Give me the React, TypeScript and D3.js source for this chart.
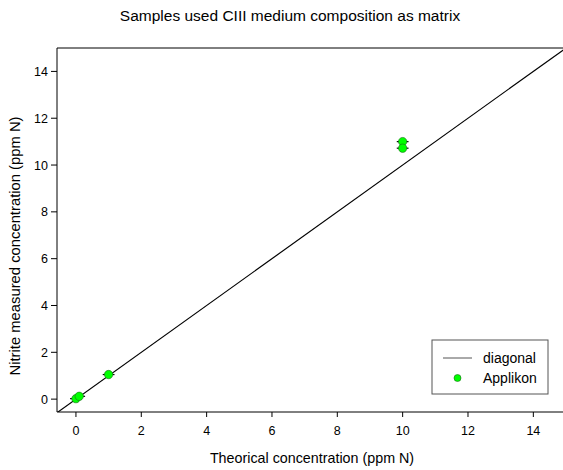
import React from 'react';
import * as d3 from 'd3';

// theorical vs measured nitrite (ppm N)
const theorical = [0, 0.1, 1, 10, 10];
const measured = [0.02, 0.12, 1.05, 11.0, 10.72];
const xErr = [0.18, 0.18, 0.18, 0.18, 0.18];
const xTicks = [0, 2, 4, 6, 8, 10, 12, 14];
const yTicks = [0, 2, 4, 6, 8, 10, 12, 14];
const legendItems = ['diagonal', 'Applikon'];

const W = 563;
const H = 470;
const margin = { left: 57, top: 48, right: -3, bottom: 58 };
const font = 'Liberation Sans, Arial, sans-serif';

const App: React.FC = () => {
    const x = d3.scaleLinear().domain([-0.58, 15]).range([margin.left, W - margin.right]);
    const y = d3.scaleLinear().domain([-0.55, 15]).range([H - margin.bottom, margin.top]);
    const x0 = margin.left, x1 = W - margin.right, y0 = H - margin.bottom, y1 = margin.top;

    const diag = d3.line<number>().x(d => x(d)).y(d => y(d));
    const diagData = [-0.58, 15];

    return (
        <div style={{ position: 'absolute', left: 0, top: 0 }}>
            <svg width={W} height={H} style={{ display: 'block', background: '#fff' }} fontFamily={font}>
                <defs>
                    <clipPath id="plot-clip">
                        <rect x={x0} y={y1} width={x1 - x0} height={y0 - y1} />
                    </clipPath>
                </defs>
                <text x={290} y={21} textAnchor="middle" fontSize={15.5} fill="#000">
                    Samples used CIII medium composition as matrix
                </text>

                {/* frame */}
                <path d={`M${x1},${y1}H${x0}V${y0}H${x1}`} fill="none" stroke="#000" strokeWidth={1} />

                {/* diagonal */}
                <g clipPath="url(#plot-clip)">
                    <path d={diag(diagData) || ''} fill="none" stroke="#000" strokeWidth={1.2} />
                </g>

                {/* error bars + points */}
                {theorical.map((t, i) => (
                    <line key={`e-${i}`} x1={x(t - xErr[i])} x2={x(t + xErr[i])} y1={y(measured[i])} y2={y(measured[i])}
                        stroke="#000" strokeWidth={1.2} />
                ))}
                {theorical.map((t, i) => (
                    <circle key={`p-${i}`} cx={x(t)} cy={y(measured[i])} r={4.2} fill="#00ff00" stroke="#1a6a1a" strokeWidth={0.6} />
                ))}

                {/* x axis */}
                {xTicks.map(t => (
                    <g key={`xt-${t}`}>
                        <line x1={x(t)} x2={x(t)} y1={y0} y2={y0 + 5} stroke="#000" />
                        <text x={x(t)} y={y0 + 23} textAnchor="middle" fontSize={12.5} fill="#000">{t}</text>
                    </g>
                ))}
                <text x={312} y={463} textAnchor="middle" fontSize={14.3} fill="#000">Theorical concentration (ppm N)</text>

                {/* y axis */}
                {yTicks.map(t => (
                    <g key={`yt-${t}`}>
                        <line x1={x0 - 6} x2={x0} y1={y(t)} y2={y(t)} stroke="#000" />
                        <text x={x0 - 9} y={y(t) + 4.5} textAnchor="end" fontSize={12.5} fill="#000">{t}</text>
                    </g>
                ))}
                <text transform={`translate(20,${246}) rotate(-90)`} textAnchor="middle" fontSize={14.8} fill="#000">
                    Nitrite measured concentration (ppm N)
                </text>

                {/* legend */}
                <g transform="translate(432,340)">
                    <rect x={0} y={0} width={116} height={54} fill="#fff" stroke="#555" strokeWidth={1} />
                    <line x1={11} x2={40} y1={18} y2={18} stroke="#555" strokeWidth={1} />
                    <circle cx={25.5} cy={38} r={3.5} fill="#00ff00" stroke="#1a6a1a" strokeWidth={0.6} />
                    {legendItems.map((l, i) => (
                        <text key={l} x={51} y={23 + i * 20} fontSize={14} fill="#000">{l}</text>
                    ))}
                </g>
            </svg>
        </div>
    );
};

export default App;
